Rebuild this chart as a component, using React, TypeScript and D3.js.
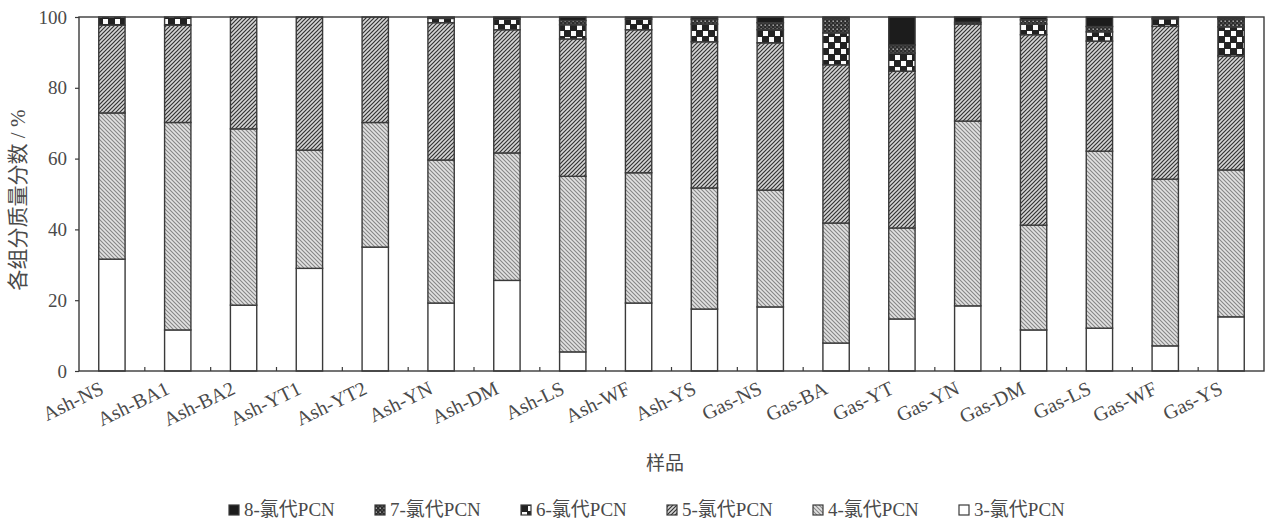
import React, { useEffect, useRef } from "react";
import * as d3 from "d3";

// 样品
const samples = [
  "Ash-NS", "Ash-BA1", "Ash-BA2", "Ash-YT1", "Ash-YT2", "Ash-YN", "Ash-DM", "Ash-LS", "Ash-WF",
  "Ash-YS", "Gas-NS", "Gas-BA", "Gas-YT", "Gas-YN", "Gas-DM", "Gas-LS", "Gas-WF", "Gas-YS",
];

// 各组分质量分数 (%), bottom to top
const cl3 = [31.6, 11.6, 18.6, 29.0, 35.0, 19.2, 25.6, 5.4, 19.2, 17.5, 18.1, 7.9, 14.7, 18.4, 11.6, 12.1, 7.1, 15.3];
const cl4 = [41.3, 58.6, 49.8, 33.4, 35.2, 40.4, 36.0, 49.6, 36.8, 34.2, 33.0, 33.9, 25.7, 52.2, 29.6, 50.0, 47.1, 41.5];
const cl5 = [24.8, 27.5, 31.6, 37.6, 29.8, 38.8, 34.8, 38.8, 40.4, 41.3, 41.6, 44.7, 44.3, 27.4, 53.8, 31.1, 43.2, 32.2];
const cl6 = [2.3, 2.3, 0, 0, 0, 1.2, 3.0, 4.0, 3.0, 5.0, 3.7, 9.0, 5.1, 0, 3.0, 2.6, 2.1, 8.2];
const cl7 = [0, 0, 0, 0, 0, 0, 0, 1.2, 0, 1.4, 2.0, 4.0, 2.3, 0.5, 1.2, 1.5, 0, 2.3];
const cl8 = [0, 0, 0, 0, 0, 0.4, 0.6, 1.0, 0.6, 0.6, 1.6, 0.5, 7.9, 1.5, 0.8, 2.7, 0.5, 0.5];

const seriesKeys = ["c3", "c4", "c5", "c6", "c7", "c8"];
const seriesNames = ["3-氯代PCN", "4-氯代PCN", "5-氯代PCN", "6-氯代PCN", "7-氯代PCN", "8-氯代PCN"];
const yTicks = [0, 20, 40, 60, 80, 100];

const W = 1269;
const H = 521;
const margin = { left: 79, right: 5, top: 17, bottom: 150 };
const serif = "'Liberation Serif', 'Times New Roman', 'Noto Sans CJK SC', serif";
const textColor = "#4a4a4a";
const lineColor = "#3a3a3a";

export default function App() {
  const ref = useRef<SVGSVGElement>(null);

  useEffect(() => {
    const svg = d3.select(ref.current);
    svg.selectAll("*").remove();

    const rows = samples.map((s, i) => ({
      sample: s,
      c3: cl3[i], c4: cl4[i], c5: cl5[i], c6: cl6[i], c7: cl7[i], c8: cl8[i],
    }));

    const x = d3.scaleBand().domain(samples)
      .range([margin.left, W - margin.right]).paddingInner(0.6).paddingOuter(0.3);
    const band = d3.scaleBand().domain(samples).range([margin.left, W - margin.right]);
    const y = d3.scaleLinear().domain([0, 100]).range([H - margin.bottom, margin.top]);

    // patterns
    const defs = svg.append("defs");
    const p4 = defs.append("pattern").attr("id", "p4").attr("patternUnits", "userSpaceOnUse")
      .attr("width", 4).attr("height", 4);
    p4.append("rect").attr("width", 4).attr("height", 4).attr("fill", "#e2e2e2");
    p4.append("path").attr("d", "M-1,3 l2,2 M0,0 l4,4 M3,-1 l2,2")
      .attr("stroke", "#868686").attr("stroke-width", 1.1);

    const p5 = defs.append("pattern").attr("id", "p5").attr("patternUnits", "userSpaceOnUse")
      .attr("width", 4).attr("height", 4);
    p5.append("rect").attr("width", 4).attr("height", 4).attr("fill", "#d6d6d6");
    p5.append("path").attr("d", "M-1,1 l2,-2 M0,4 l4,-4 M3,5 l2,-2")
      .attr("stroke", "#333").attr("stroke-width", 1.2);

    const p6 = defs.append("pattern").attr("id", "p6").attr("patternUnits", "userSpaceOnUse")
      .attr("width", 12).attr("height", 12);
    p6.append("rect").attr("width", 12).attr("height", 12).attr("fill", "#222");
    p6.append("rect").attr("x", 1).attr("y", 1).attr("width", 5).attr("height", 5).attr("fill", "#fafafa");
    p6.append("rect").attr("x", 7).attr("y", 7).attr("width", 5).attr("height", 5).attr("fill", "#fafafa");

    const p7 = defs.append("pattern").attr("id", "p7").attr("patternUnits", "userSpaceOnUse")
      .attr("width", 4).attr("height", 4);
    p7.append("rect").attr("width", 4).attr("height", 4).attr("fill", "#2c2c2c");
    p7.append("rect").attr("x", 0.5).attr("y", 0.5).attr("width", 1.4).attr("height", 1.4).attr("fill", "#bdbdbd");
    p7.append("rect").attr("x", 2.5).attr("y", 2.5).attr("width", 1.2).attr("height", 1.2).attr("fill", "#7a7a7a");

    const fills: Record<string, string> = {
      c3: "#ffffff", c4: "url(#p4)", c5: "url(#p5)", c6: "url(#p6)", c7: "url(#p7)", c8: "#1c1c1c",
    };

    const stack = d3.stack<any>().keys(seriesKeys);
    const layers = stack(rows);

    const g = svg.append("g");
    layers.forEach((layer) => {
      g.append("g").selectAll("rect").data(layer.filter((d) => d[1] - d[0] > 0)).join("rect")
        .attr("x", (d) => x(d.data.sample)!)
        .attr("width", x.bandwidth())
        .attr("y", (d) => y(d[1]))
        .attr("height", (d) => y(d[0]) - y(d[1]))
        .attr("fill", fills[layer.key])
        .attr("stroke", lineColor)
        .attr("stroke-width", 1.4);
    });

    // frame
    const x0 = margin.left;
    const x1 = W - margin.right;
    svg.append("rect").attr("x", x0).attr("y", y(100)).attr("width", x1 - x0)
      .attr("height", y(0) - y(100)).attr("fill", "none").attr("stroke", lineColor).attr("stroke-width", 1.4);

    // y axis
    const yAxis = svg.append("g").attr("transform", `translate(${x0},0)`)
      .call(d3.axisLeft(y).tickValues(yTicks).tickSize(4).tickPadding(8));
    yAxis.select(".domain").remove();
    yAxis.selectAll("line").attr("stroke", lineColor).attr("stroke-width", 1.2);
    yAxis.selectAll("text").attr("font-family", serif).attr("font-size", 19).attr("fill", textColor);

    // minor ticks between samples
    svg.append("g").selectAll("line").data(samples.slice(1)).join("line")
      .attr("x1", (d) => band(d)!).attr("x2", (d) => band(d)!)
      .attr("y1", y(0)).attr("y2", y(0) - 4)
      .attr("stroke", lineColor).attr("stroke-width", 1.2);

    // x labels
    svg.append("g").selectAll("text").data(samples).join("text")
      .attr("transform", (d) => `translate(${x(d)! + x.bandwidth() / 2 - 7},${y(0) + 22}) rotate(-26)`)
      .attr("text-anchor", "end")
      .attr("font-family", serif).attr("font-size", 20).attr("fill", textColor)
      .text((d) => d);

    // axis titles
    svg.append("text")
      .attr("transform", `translate(25,${(y(0) + y(100)) / 2 + 6}) rotate(-90)`)
      .attr("text-anchor", "middle")
      .attr("font-family", serif).attr("font-size", 21).attr("fill", textColor)
      .text("各组分质量分数 / %");
    svg.append("text")
      .attr("x", 665).attr("y", 470)
      .attr("text-anchor", "middle")
      .attr("font-family", serif).attr("font-size", 19).attr("fill", textColor)
      .text("样品");

    // legend, from 8 down to 3
    const order = d3.range(seriesKeys.length).reverse();
    const lx = d3.scaleLinear().domain([0, order.length - 1]).range([229, 959]);
    const leg = svg.append("g").selectAll("g").data(order).join("g")
      .attr("transform", (_d, i) => `translate(${lx(i)},511)`);
    leg.append("rect").attr("x", 0).attr("y", -6).attr("width", 10).attr("height", 10)
      .attr("fill", (d) => fills[seriesKeys[d]]).attr("stroke", lineColor).attr("stroke-width", 1.2);
    leg.append("text").attr("x", 15).attr("y", 5)
      .attr("font-family", serif).attr("font-size", 19).attr("fill", textColor)
      .text((d) => seriesNames[d]);
  }, []);

  return (
    <svg ref={ref} width={W} height={H} style={{ position: "absolute", left: 0, top: 0, background: "#fff" }} />
  );
}
